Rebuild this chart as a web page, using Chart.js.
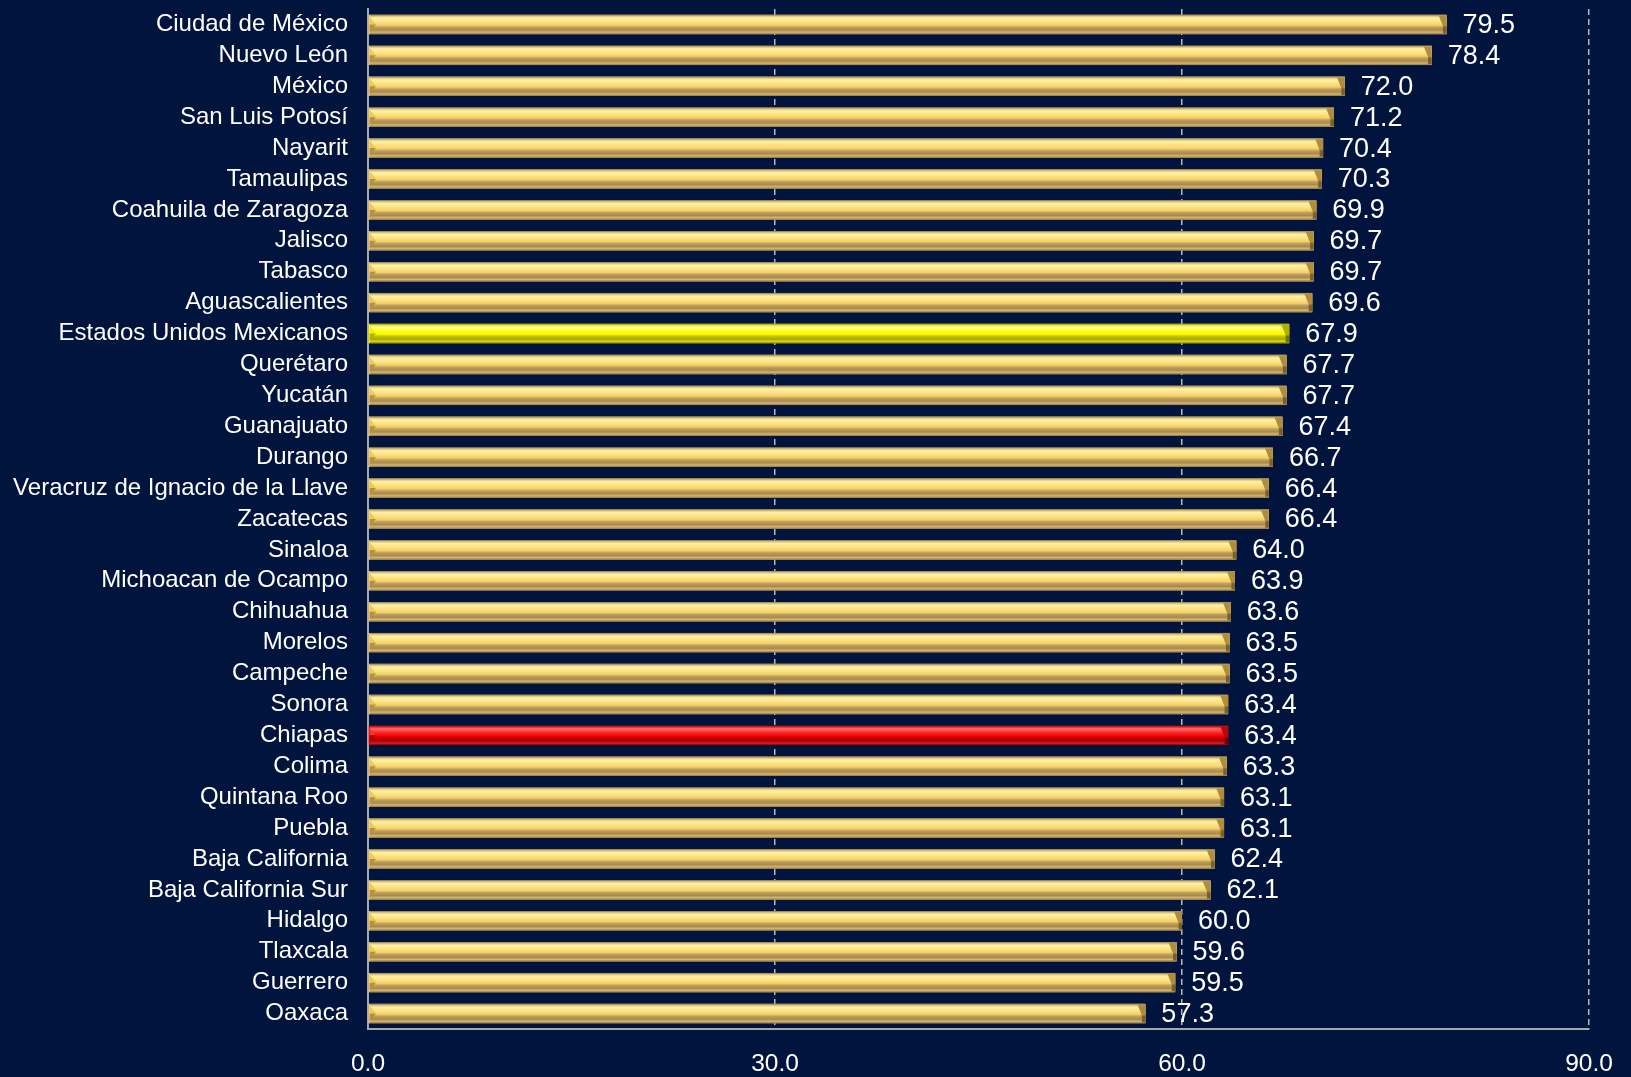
<!DOCTYPE html>
<html>
<head>
<meta charset="utf-8">
<script src="https://cdn.jsdelivr.net/npm/chart.js@4.4.1/dist/chart.umd.min.js"></script>
<style>
	html, body { margin: 0; padding: 0; background: #00143e; }
	#wrap { width: 1631px; height: 1077px; }
</style>
</head>
<body>
<div id="wrap"><canvas id="canvas" width="1631" height="1077"></canvas></div>
<script>
var estados = [
	"Ciudad de México", "Nuevo León", "México", "San Luis Potosí", "Nayarit",
	"Tamaulipas", "Coahuila de Zaragoza", "Jalisco", "Tabasco", "Aguascalientes",
	"Estados Unidos Mexicanos", "Querétaro", "Yucatán", "Guanajuato", "Durango",
	"Veracruz de Ignacio de la Llave", "Zacatecas", "Sinaloa", "Michoacan de Ocampo", "Chihuahua",
	"Morelos", "Campeche", "Sonora", "Chiapas", "Colima",
	"Quintana Roo", "Puebla", "Baja California", "Baja California Sur", "Hidalgo",
	"Tlaxcala", "Guerrero", "Oaxaca"
];
var valores = [
	79.5, 78.4, 72.0, 71.2, 70.4,
	70.3, 69.9, 69.7, 69.7, 69.6,
	67.9, 67.7, 67.7, 67.4, 66.7,
	66.4, 66.4, 64.0, 63.9, 63.6,
	63.5, 63.5, 63.4, 63.4, 63.3,
	63.1, 63.1, 62.4, 62.1, 60.0,
	59.6, 59.5, 57.3
];
var xMin = 0, xMax = 90, xStep = 30;
var resaltados = { "Estados Unidos Mexicanos": "yellow", "Chiapas": "red" };

var palettes = {
	gold: {
		base: '#f0d070',
		stops: [[0,'#8a7442'],[0.07,'#d8be78'],[0.17,'#fff2aa'],[0.36,'#fee27e'],[0.54,'#f2d06c'],[0.64,'#c0a05a'],[0.79,'#a8894c'],[0.9,'#d6b672'],[1,'#8c7444']],
		capTop: '#f4c655', capBot: '#b8913e', endTop: '#b08c3e', endBot: '#78602c'
	},
	yellow: {
		base: '#ffff00',
		stops: [[0,'#8a8a00'],[0.07,'#e0e040'],[0.17,'#ffff8a'],[0.36,'#ffff20'],[0.54,'#f6f600'],[0.64,'#c4c400'],[0.79,'#a8a800'],[0.9,'#dcdc18'],[1,'#808000']],
		capTop: '#f4f400', capBot: '#b4b400', endTop: '#b0b000', endBot: '#707000'
	},
	red: {
		base: '#ff0000',
		stops: [[0,'#880000'],[0.07,'#e02828'],[0.17,'#ff6e6e'],[0.36,'#ff2424'],[0.54,'#f40000'],[0.64,'#c40000'],[0.79,'#a80000'],[0.9,'#e02020'],[1,'#800000']],
		capTop: '#ff2e2e', capBot: '#b40000', endTop: '#b40a0a', endBot: '#740000'
	}
};

function paletteFor(i) {
	return palettes[resaltados[estados[i]] || 'gold'];
}

function poly(ctx, pts) {
	ctx.beginPath();
	ctx.moveTo(pts[0][0], pts[0][1]);
	for (var k = 1; k < pts.length; k++) ctx.lineTo(pts[k][0], pts[k][1]);
	ctx.closePath();
	ctx.fill();
}

// beveled bars + value labels, drawn on top of the library's bar elements
var bevelPlugin = {
	id: 'bevel',
	afterDatasetsDraw: function(chart) {
		var ctx = chart.ctx;
		var meta = chart.getDatasetMeta(0);
		meta.data.forEach(function(bar, i) {
			var p = bar.getProps(['x', 'y', 'base', 'height'], true);
			var x0 = p.base + 1, x1 = p.x, yT = p.y - p.height / 2, yB = p.y + p.height / 2, h = p.height;
			var pal = paletteFor(i);
			var ym = yT + h / 2;
			var c = Math.min(h * 0.4, (x1 - x0) / 2);
			ctx.save();
			var g = ctx.createLinearGradient(0, yT, 0, yB);
			pal.stops.forEach(function(s) { g.addColorStop(s[0], s[1]); });
			ctx.fillStyle = g;
			ctx.fillRect(x0, yT, x1 - x0, h);
			// left bevel
			ctx.fillStyle = pal.capTop;
			poly(ctx, [[x0, yT + 2], [x0 + c * 0.8, ym], [x0, ym]]);
			ctx.fillStyle = pal.capBot;
			poly(ctx, [[x0, ym], [x0 + c * 0.8, ym], [x0, yB - 2]]);
			// right end face
			var eg = ctx.createLinearGradient(0, yT, 0, yB);
			eg.addColorStop(0, pal.endTop);
			eg.addColorStop(0.55, pal.endTop);
			eg.addColorStop(0.65, pal.endBot);
			eg.addColorStop(1, pal.endBot);
			ctx.fillStyle = eg;
			poly(ctx, [[x1 - c, yT + 1], [x1, yT + 1], [x1, yB - 1], [x1 - c * 0.45, yB - 1], [x1 - c * 0.45, yT + h * 0.6]]);

			ctx.fillStyle = '#ffffff';
			ctx.font = '27px "Liberation Sans", Arial, sans-serif';
			ctx.textAlign = 'left';
			ctx.textBaseline = 'middle';
			ctx.fillText(valores[i].toFixed(1), x1 + 16, p.y + 1);
			ctx.restore();
		});
	}
};

var ctx = document.getElementById('canvas').getContext('2d');
window.myBar = new Chart(ctx, {
	type: 'bar',
	data: {
		labels: estados,
		datasets: [{
			data: valores,
			backgroundColor: estados.map(function(e, i) { return paletteFor(i).base; }),
			borderWidth: 0,
			barPercentage: 0.63,
			categoryPercentage: 1.0
		}]
	},
	options: {
		indexAxis: 'y',
		responsive: false,
		animation: false,
		devicePixelRatio: 1,
		layout: { padding: { top: 9, right: 42, left: 0, bottom: 0 } },
		plugins: {
			legend: { display: false },
			tooltip: { enabled: false },
			title: { display: false }
		},
		scales: {
			x: {
				type: 'linear',
				min: xMin,
				max: xMax,
				afterFit: function(scale) {
					scale.height = 48;
					scale.paddingLeft = 0;
					scale.paddingRight = 0;
				},
				ticks: {
					stepSize: xStep,
					padding: 21,
					color: '#ffffff',
					font: { family: '"Liberation Sans", Arial, sans-serif', size: 24.5 },
					callback: function(v) { return Number(v).toFixed(1); }
				},
				grid: {
					drawTicks: false,
					lineWidth: 1.5,
					color: function(c) { return c.tick && c.tick.value === 0 ? 'rgba(0,0,0,0)' : '#b8b8b8'; }
				},
				border: { display: true, color: '#a8a8a8', width: 2, dash: [6, 4] }
			},
			y: {
				z: 1,
				afterFit: function(scale) {
					scale.width = 368;
					scale.paddingTop = 0;
					scale.paddingBottom = 0;
				},
				ticks: {
					autoSkip: false,
					padding: 20,
					color: '#ffffff',
					font: { family: '"Liberation Sans", Arial, sans-serif', size: 24 }
				},
				grid: { display: false, drawTicks: false },
				border: { display: true, color: '#a8a8a8', width: 2 }
			}
		}
	},
	plugins: [bevelPlugin]
});
</script>
</body>
</html>
